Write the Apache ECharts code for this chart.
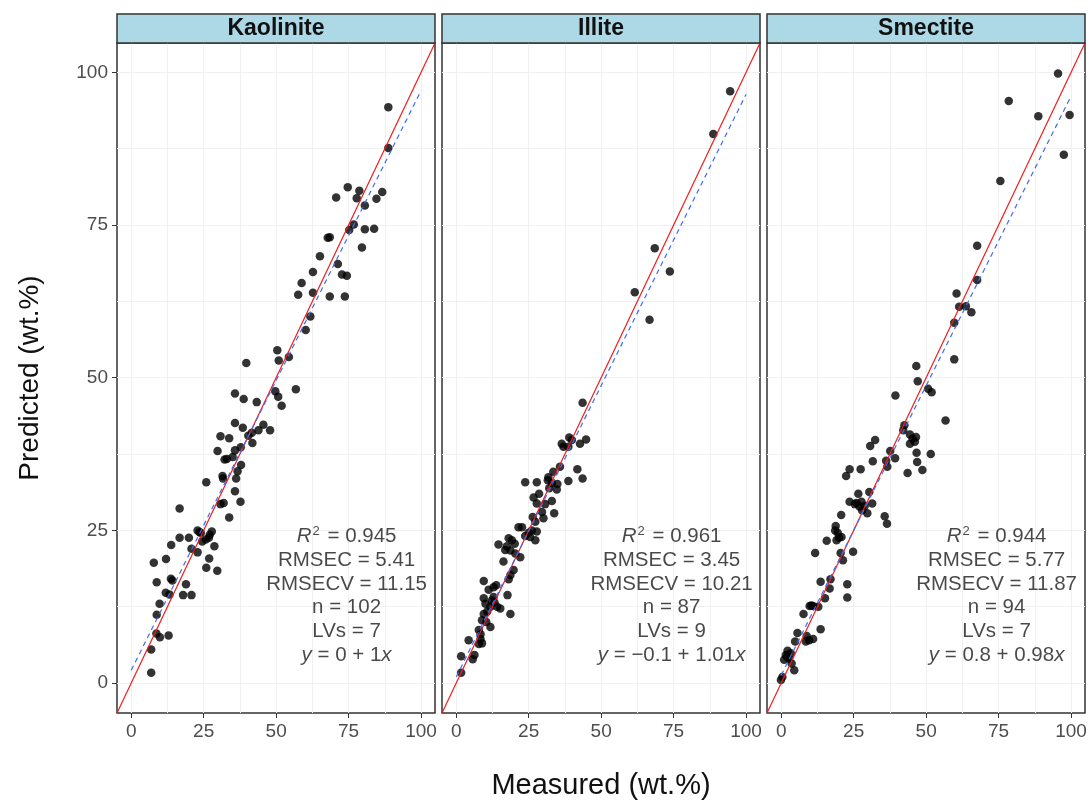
<!DOCTYPE html>
<html><head><meta charset="utf-8">
<script src="https://cdn.jsdelivr.net/npm/echarts@6/dist/echarts.min.js"></script>
<style>html,body{margin:0;padding:0;background:#fff}#c{width:1091px;height:802px}</style>
</head><body><div id="c"></div>
<script>
const panels = ['Kaolinite', 'Illite', 'Smectite'];
const tickValues = [0, 25, 50, 75, 100];
const gridValues = [0, 12.5, 25, 37.5, 50, 62.5, 75, 87.5, 100];
const axisMin = -4.9, axisMax = 104.8;

// [measured, predicted]
const kaolinite = [[88.7,94.3],[88.7,87.6],[74.7,81.2],[78.7,80.6],[70.7,79.5],[77.8,79.4],[86.6,80.4],[84.6,79.3],[80.6,78.2],[76.8,75.1],[75.2,74.2],[80.6,74.3],[83.8,74.4],[79.6,71.3],[67.8,72.9],[68.5,73.0],[65.1,69.9],[71.3,68.6],[62.7,67.3],[72.7,66.9],[74.4,66.7],[58.8,65.5],[57.6,63.6],[62.7,63.9],[68.5,63.3],[73.7,63.3],[61.8,60.0],[60.2,57.8],[50.4,54.5],[50.9,52.8],[54.4,53.4],[39.7,52.4],[49.7,47.8],[50.7,46.9],[51.9,45.4],[56.8,48.1],[35.8,47.4],[38.8,46.5],[43.3,46.0],[35.8,42.6],[38.5,41.8],[45.6,42.3],[43.9,41.4],[47.9,41.4],[41.6,41.0],[40.4,40.5],[30.8,40.4],[33.8,40.1],[41.8,39.3],[37.8,38.6],[35.8,38.1],[29.8,38.0],[32.2,36.6],[33.0,36.7],[35.0,37.0],[37.9,35.7],[36.7,34.7],[31.5,33.9],[31.7,33.5],[36.2,33.5],[25.9,32.9],[35.8,31.4],[30.8,29.3],[31.9,29.5],[37.7,29.7],[16.7,28.6],[33.8,27.1],[22.9,25.0],[23.6,24.7],[27.8,24.8],[27.1,24.3],[16.7,23.8],[19.9,23.8],[25.7,23.5],[26.8,23.8],[24.5,23.2],[24.0,24.6],[28.7,22.4],[13.8,22.6],[20.8,22.0],[22.9,21.4],[26.9,20.4],[25.9,18.9],[29.7,18.4],[7.8,19.7],[12.0,20.3],[8.8,16.5],[13.7,17.1],[14.2,16.8],[18.9,16.2],[11.9,14.8],[13.2,14.5],[17.9,14.4],[20.8,14.4],[9.8,13.0],[8.8,11.2],[8.7,8.1],[9.9,7.5],[12.9,7.8],[6.9,5.5],[6.9,1.7]];
const illite = [[94.5,96.9],[88.7,89.9],[68.5,71.2],[73.7,67.4],[61.6,64.0],[66.7,59.5],[43.6,45.9],[39.0,40.2],[36.4,39.2],[37.0,38.7],[39.9,39.8],[38.7,38.7],[44.8,39.9],[42.7,39.2],[35.8,35.4],[33.5,34.6],[41.8,35.0],[23.8,32.9],[27.8,32.9],[31.8,33.7],[33.0,32.7],[38.7,33.1],[43.6,33.5],[34.7,31.7],[32.1,31.9],[26.7,30.4],[27.8,29.4],[30.7,29.3],[33.0,29.8],[29.6,28.0],[30.1,27.0],[33.8,27.8],[27.3,26.4],[21.5,25.5],[22.7,25.5],[26.1,25.0],[27.8,24.8],[23.8,24.1],[25.5,23.9],[27.3,23.4],[18.1,23.7],[19.2,23.4],[14.6,22.7],[16.9,21.8],[18.7,21.7],[17.5,22.4],[20.4,21.2],[22.1,20.6],[19.8,18.5],[18.7,17.7],[18.1,17.0],[9.5,16.7],[13.8,16.0],[12.9,15.7],[11.2,15.3],[17.7,14.4],[12.9,14.1],[12.3,13.5],[9.5,13.9],[10.1,13.0],[14.1,12.5],[15.2,12.2],[11.8,12.5],[10.7,11.7],[18.7,11.3],[9.5,11.3],[8.9,10.3],[11.8,9.2],[7.8,8.7],[8.4,8.0],[8.4,7.2],[8.9,6.5],[7.8,6.4],[4.3,7.0],[6.3,4.6],[5.7,3.9],[1.7,4.4],[1.7,1.7],[31.6,33.2],[28.6,31.0],[25.0,24.6],[20.2,22.8],[13.2,13.2],[10.4,10.0],[26.4,27.2],[34.9,32.6],[16.3,19.9]];
const smectite = [[95.5,99.8],[78.5,95.3],[88.7,92.8],[99.5,93.0],[97.5,86.5],[75.6,82.2],[67.6,71.6],[67.6,66.0],[60.5,63.8],[61.4,61.6],[63.7,61.7],[65.6,60.7],[59.7,59.0],[59.7,53.0],[46.6,51.9],[47.1,49.4],[50.7,48.2],[51.9,47.6],[39.4,47.1],[56.7,43.0],[42.5,42.2],[42.1,41.4],[44.4,40.7],[46.5,40.3],[46.1,39.5],[44.4,39.2],[32.4,39.8],[30.7,38.8],[37.6,38.0],[46.7,37.7],[51.6,37.5],[31.6,36.3],[36.2,36.4],[39.3,36.8],[36.6,35.4],[46.9,36.2],[48.7,34.9],[43.6,34.4],[23.6,35.0],[27.4,35.0],[22.4,33.9],[26.6,31.0],[30.4,31.3],[23.6,29.7],[25.4,29.3],[27.7,29.7],[27.0,28.9],[31.4,29.4],[27.9,28.3],[29.7,27.8],[35.7,27.3],[36.5,26.1],[20.7,27.5],[18.8,25.7],[18.6,25.0],[19.9,23.8],[20.8,23.9],[19.1,23.4],[15.7,23.3],[11.7,21.3],[20.5,21.3],[24.8,21.5],[21.3,20.1],[17.0,17.0],[16.7,15.5],[13.6,16.6],[22.8,16.2],[15.1,13.9],[22.8,14.0],[9.8,12.6],[11.0,12.6],[12.8,12.5],[7.7,11.3],[13.6,8.8],[5.6,8.2],[8.8,7.7],[9.6,7.0],[11.0,7.2],[8.5,6.8],[4.8,6.8],[2.2,5.3],[1.6,4.6],[3.3,4.9],[1.0,3.8],[2.7,4.0],[3.6,3.2],[4.5,2.1],[0.4,1.0],[-0.1,0.5],[28.8,29.0],[45.3,40.0],[19.5,24.6],[2.0,4.3],[26.0,29.5],[10.4,12.7]];
const panelData = [kaolinite, illite, smectite];

const fitIntercept = [2.1, 1.0, 1.3];
const fitSlope = [0.949, 0.954, 0.948];
const fitRange = [0, 100];

const statR2 = ['0.945', '0.961', '0.944'];
const statRMSEC = ['5.41', '3.45', '5.77'];
const statRMSECV = ['11.15', '10.21', '11.87'];
const statN = ['102', '87', '94'];
const statLVs = ['7', '9', '7'];
const eqIntercept = ['0', '\u22120.1', '0.8'];
const eqSlope = ['1', '1.01', '0.98'];
const annotationPos = [74.3, 14.3];

const FONT = 'Liberation Sans, Arial, sans-serif';
const PL = 117, PT = 43, PW = 318, PH = 670, GAP = 7;

const grids = [], xAxes = [], yAxes = [], series = [], graphics = [];
panels.forEach((name, i) => {
  const left = PL + i * (PW + GAP);
  grids.push({ left: left, top: PT, width: PW, height: PH, show: true, borderColor: '#333', borderWidth: 1.5, backgroundColor: '#fff' });
  xAxes.push({
    type: 'value', gridIndex: i, min: axisMin, max: axisMax,
    axisLine: { show: false, onZero: false },
    axisTick: { show: true, length: 5, customValues: tickValues, lineStyle: { color: '#333', width: 1 } },
    axisLabel: { show: true, customValues: tickValues, margin: 9, fontSize: 19, color: '#4d4d4d', fontFamily: FONT },
    splitLine: { show: false }
  });
  yAxes.push({
    type: 'value', gridIndex: i, min: axisMin, max: axisMax,
    axisLine: { show: false, onZero: false },
    axisTick: { show: i === 0, length: 5, customValues: tickValues, lineStyle: { color: '#333', width: 1 } },
    axisLabel: { show: i === 0, customValues: tickValues, margin: 9, fontSize: 19, color: '#4d4d4d', fontFamily: FONT },
    splitLine: { show: false }
  });
  // grid lines
  series.push({
    type: 'line', xAxisIndex: i, yAxisIndex: i, data: [[0, 0]], showSymbol: false, silent: true, z: 1,
    lineStyle: { width: 0 },
    markLine: {
      silent: true, z: 1, symbol: ['none', 'none'], label: { show: false },
      lineStyle: { color: '#f0f0f0', width: 1, type: 'solid' },
      emphasis: { disabled: true },
      data: gridValues.map(v => ({ xAxis: v })).concat(gridValues.map(v => ({ yAxis: v })))
    }
  });
  // points
  series.push({
    type: 'scatter', xAxisIndex: i, yAxisIndex: i, data: panelData[i], symbolSize: 8.5,
    itemStyle: { color: '#000' }, z: 3, silent: true
  });
  // 1:1 line
  series.push({
    type: 'line', xAxisIndex: i, yAxisIndex: i, data: [[axisMin, axisMin], [axisMax, axisMax]],
    showSymbol: false, silent: true, z: 4, lineStyle: { color: '#f01c1c', width: 1.2 }
  });
  // fit line
  series.push({
    type: 'line', xAxisIndex: i, yAxisIndex: i,
    data: fitRange.map(x => [x, fitIntercept[i] + fitSlope[i] * x]),
    showSymbol: false, silent: true, z: 4, lineStyle: { color: '#3d6ef5', width: 1.2, type: [5, 4] }
  });
  // annotation
  const txt = [
    '{i|R}{sup|2}{n| = ' + statR2[i] + '}',
    '{n|RMSEC = ' + statRMSEC[i] + '}',
    '{n|RMSECV = ' + statRMSECV[i] + '}',
    '{n|n = ' + statN[i] + '}',
    '{n|LVs = ' + statLVs[i] + '}',
    '{i|y}{n| = ' + eqIntercept[i] + ' + ' + eqSlope[i] + '}{i|x}'
  ].join('\n');
  series.push({
    type: 'scatter', xAxisIndex: i, yAxisIndex: i, data: [annotationPos], symbolSize: 0, silent: true, z: 5,
    label: {
      show: true, position: 'inside', align: 'center', verticalAlign: 'middle', formatter: txt,
      rich: {
        n: { fontSize: 20.5, lineHeight: 23.7, color: '#1a1a1a', fontFamily: FONT },
        i: { fontSize: 20.5, lineHeight: 23.7, color: '#1a1a1a', fontFamily: FONT, fontStyle: 'italic' },
        sup: { fontSize: 13, lineHeight: 23.7, color: '#1a1a1a', fontFamily: FONT, verticalAlign: 'top', padding: [0, 2, 0, 1] }
      }
    }
  });
  // strip
  graphics.push({
    type: 'rect', shape: { x: left, y: 14, width: PW, height: 29 },
    style: { fill: '#add8e6', stroke: '#333', lineWidth: 1.5 }, z: 10
  });
  graphics.push({
    type: 'text', x: left + PW / 2, y: 29,
    style: { text: name, font: 'bold 23px ' + FONT, fill: '#111', textAlign: 'center', textVerticalAlign: 'middle' }, z: 11
  });
});

graphics.push({
  type: 'text', x: PL + (3 * PW + 2 * GAP) / 2, y: 786,
  style: { text: 'Measured (wt.%)', font: '29px ' + FONT, fill: '#111', textAlign: 'center', textVerticalAlign: 'middle' }
});
graphics.push({
  type: 'text', x: 30, y: PT + PH / 2, rotation: Math.PI / 2,
  style: { text: 'Predicted (wt.%)', font: '28px ' + FONT, fill: '#111', textAlign: 'center', textVerticalAlign: 'middle' }
});

const chart = echarts.init(document.getElementById('c'), null, { renderer: 'canvas' });
chart.setOption({
  animation: false,
  backgroundColor: '#fff',
  grid: grids, xAxis: xAxes, yAxis: yAxes, series: series, graphic: graphics
});
</script></body></html>
